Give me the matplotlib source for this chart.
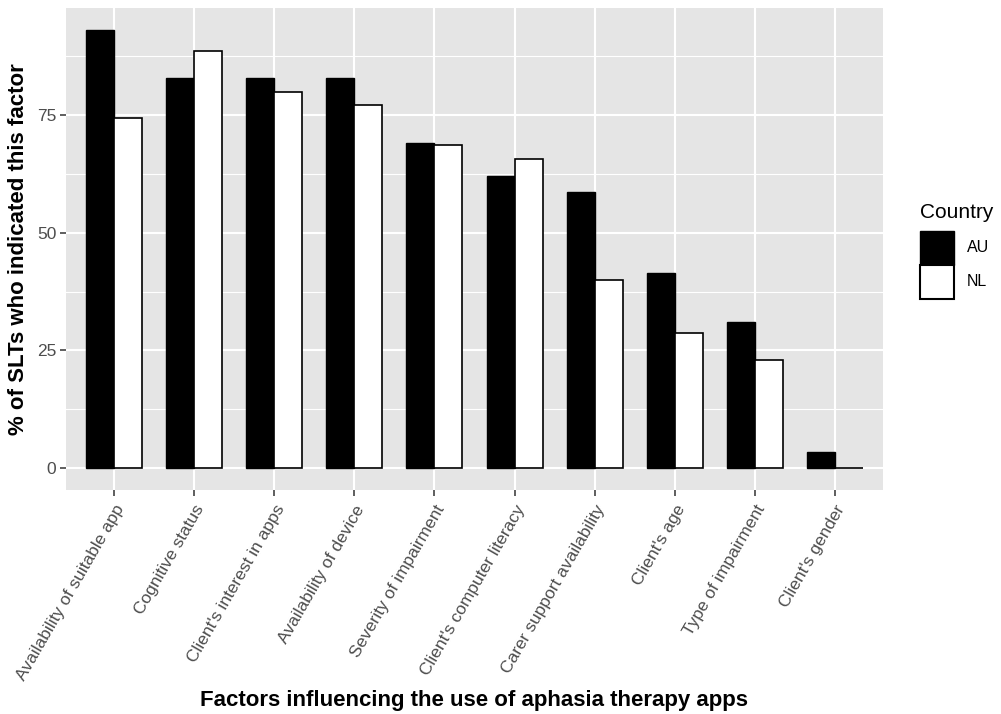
import matplotlib
matplotlib.use("Agg")
import matplotlib.pyplot as plt
import numpy as np
from matplotlib.patches import Patch

plt.rcParams['font.family'] = ['Liberation Sans', 'DejaVu Sans']

factors = ["Availability of suitable app", "Cognitive status", "Client's interest in apps",
           "Availability of device", "Severity of impairment", "Client's computer literacy",
           "Carer support availability", "Client's age", "Type of impairment", "Client's gender"]
au = [93.1, 82.8, 82.8, 82.8, 69.0, 62.1, 58.6, 41.4, 31.0, 3.4]
nl = [74.3, 88.6, 80.0, 77.1, 68.6, 65.7, 40.0, 28.6, 22.9, 0.0]
countries = ["AU", "NL"]
yticks = [0, 25, 50, 75]

fig = plt.figure(figsize=(10.01, 7.14), dpi=100)
ax = fig.add_axes([66/1001, 1-490/714, (883-66)/1001, (490-8)/714])
ax.set_facecolor('#E5E5E5')

x = np.arange(1, len(factors)+1)
w = 0.35
ax.bar(x - w/2, au, width=w, color='black', edgecolor='black', linewidth=1, zorder=3)
ax.bar(x + w/2, nl, width=w, color='white', edgecolor='black', linewidth=1.2, zorder=3)

ax.set_xlim(0.4, len(factors)+0.6)
ymax = max(max(au), max(nl))
ax.set_ylim(-0.05*ymax, ymax*1.05)

ax.set_yticks(yticks)
ax.set_yticklabels([str(t) for t in yticks], fontsize=12.5, color='#4D4D4D')
ax.set_yticks([12.5, 37.5, 62.5, 87.5], minor=True)
ax.set_xticks(x)
ax.set_xticklabels(factors, rotation=60, ha='right', rotation_mode='anchor',
                   fontsize=12.5, color='#4D4D4D')
ax.tick_params(axis='both', which='major', length=4, width=1.1, color='#333333')
ax.tick_params(axis='x', which='major', pad=5)
ax.tick_params(axis='y', which='major', pad=3)
ax.tick_params(axis='y', which='minor', length=0)
ax.grid(which='major', color='white', linewidth=1.5, zorder=0)
ax.grid(which='minor', axis='y', color='white', linewidth=0.8, zorder=0)
ax.set_axisbelow(True)
for s in ax.spines.values():
    s.set_visible(False)

ax.set_xlabel("Factors influencing the use of aphasia therapy apps", fontsize=16,
              fontweight='bold', labelpad=5)
ax.set_ylabel("% of SLTs who indicated this factor", fontsize=16,
              fontweight='bold', labelpad=6)

handles = [Patch(facecolor='black', edgecolor='black', linewidth=1),
           Patch(facecolor='white', edgecolor='black', linewidth=1.5)]
leg = fig.legend(handles, countries, title="Country", loc='upper left',
                 bbox_to_anchor=(914/1001, 1-197/714), frameon=False,
                 fontsize=11.5, title_fontsize=15, handlelength=2.1, handleheight=2.9,
                 labelspacing=0.0, handletextpad=0.8, borderaxespad=0)
leg._legend_box.align = "left"
leg._legend_box.sep = 6

fig.savefig("out.png", dpi=100)
